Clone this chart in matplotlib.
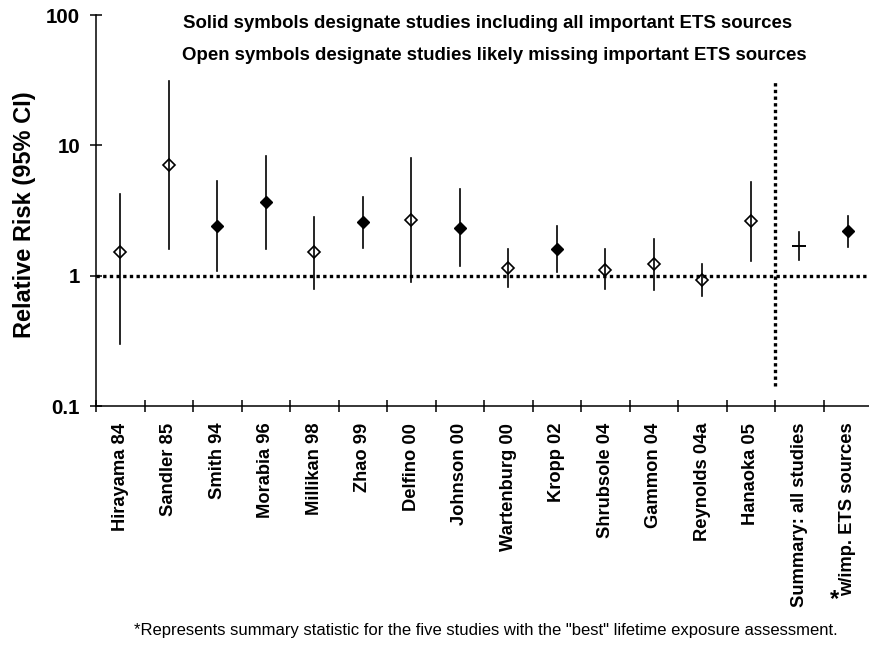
import matplotlib
matplotlib.use("Agg")
import matplotlib.pyplot as plt
import numpy as np

plt.rcParams['font.family'] = ['Liberation Sans', 'DejaVu Sans']

# studies, relative risk and 95% CI
studies = ["Hirayama 84", "Sandler 85", "Smith 94", "Morabia 96", "Millikan 98",
           "Zhao 99", "Delfino 00", "Johnson 00", "Wartenburg 00", "Kropp 02",
           "Shrubsole 04", "Gammon 04", "Reynolds 04a", "Hanaoka 05",
           "Summary: all studies", "w/imp. ETS sources"]
rr = [1.51, 7.08, 2.42, 3.65, 1.51, 2.56, 2.69, 2.31, 1.15, 1.60, 1.10, 1.22, 0.93, 2.61, 1.70, 2.21]
lo = [0.30, 1.60, 1.09, 1.60, 0.79, 1.62, 0.90, 1.18, 0.82, 1.06, 0.79, 0.78, 0.70, 1.29, 1.31, 1.66]
hi = [4.25, 31.4, 5.36, 8.29, 2.82, 4.04, 8.05, 4.65, 1.61, 2.42, 1.60, 1.91, 1.22, 5.24, 2.18, 2.85]
kind = ["open", "open", "solid", "solid", "open", "solid", "open", "solid", "open",
        "solid", "open", "open", "open", "open", "plus", "solid"]
yticks = [0.1, 1, 10, 100]
ytick_labels = ["0.1", "1", "10", "100"]

W, H = 869, 646
fig = plt.figure(figsize=(W / 100, H / 100), dpi=100)
ax = fig.add_axes([96 / W, 1 - 406 / H, 776 / W, 391 / H])

x = np.arange(len(studies))
ax.set_yscale("log")
ax.set_ylim(0.1, 100)
ax.set_xlim(-0.5, len(studies) - 0.5)

# reference lines (dotted)
dots = (0, (1, 1))
ax.axhline(1, color="black", lw=2.4, linestyle=dots, dash_capstyle="butt", zorder=1)
ax.plot([13.5, 13.5], [0.143, 30.4], color="black", lw=2.4, linestyle=dots,
        dash_capstyle="butt", zorder=1)

for i in range(len(studies)):
    ax.plot([x[i], x[i]], [lo[i], hi[i]], color="black", lw=1.2, zorder=2)
    if kind[i] == "solid":
        ax.plot(x[i], rr[i], marker="D", ms=6, color="black", zorder=3)
    elif kind[i] == "open":
        ax.plot(x[i], rr[i], marker="D", ms=6, mfc="none", mec="black", mew=1.2, zorder=3)
    else:
        ax.plot(x[i], rr[i], marker="_", ms=10, mew=1.4, color="black", zorder=3)

for s in ["top", "right"]:
    ax.spines[s].set_visible(False)
ax.spines["left"].set_linewidth(1.1)
ax.spines["bottom"].set_linewidth(1.1)

ax.set_yticks(yticks)
ax.set_yticklabels(ytick_labels, fontsize=14.8, fontweight="bold")
ax.yaxis.set_minor_locator(matplotlib.ticker.NullLocator())
ax.tick_params(axis="y", which="major", direction="inout", length=9, width=1.1, pad=7)

ax.set_xticks(x)
ax.set_xticklabels(studies, rotation=90, fontsize=13.2, fontweight="bold", va="top")
ax.tick_params(axis="x", which="major", length=0, pad=12)
ax.set_xticks(np.arange(-0.5, len(studies) + 0.5, 1), minor=True)
ax.tick_params(axis="x", which="minor", direction="inout", length=9, width=1.1)

fig.text(25 / W, 1 - 215 / H, "Relative Risk (95% CI)", rotation=90, fontsize=17,
         fontweight="bold", ha="center", va="center")
fig.text(183 / W, 1 - 23 / H, "Solid symbols designate studies including all important ETS sources",
         fontsize=13.4, fontweight="bold", ha="left", va="center")
fig.text(182 / W, 1 - 55 / H, "Open symbols designate studies likely missing important ETS sources",
         fontsize=13.4, fontweight="bold", ha="left", va="center")
fig.text(835 / W, 1 - 600 / H, "*", fontsize=17, fontweight="bold", ha="center", va="center")
fig.text(486 / W, 1 - 630 / H,
         '*Represents summary statistic for the five studies with the "best" lifetime exposure assessment.',
         fontsize=12, ha="center", va="center")

fig.savefig("out.png", dpi=100)
